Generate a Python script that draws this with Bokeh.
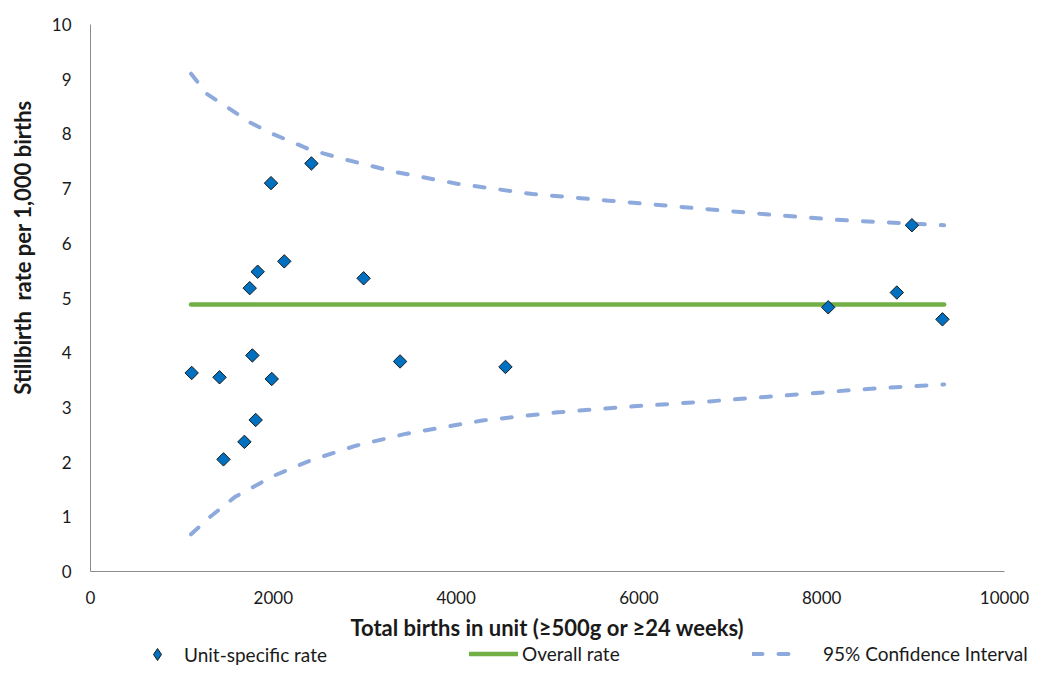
import math
from bokeh.plotting import figure
from bokeh.models import Range1d, Legend, LegendItem, Label, FixedTicker
from bokeh.embed import file_html
from bokeh.resources import INLINE

# ---- data ----
unit_births = [1107, 1412, 1455, 1684, 1742, 1771, 1807, 1829, 1975, 1983,
               2120, 2417, 2988, 3387, 4540, 8071, 8822, 8987, 9321]
unit_rate = [3.63, 3.55, 2.05, 2.37, 5.18, 3.95, 2.77, 5.48, 7.10, 3.52,
             5.67, 7.46, 5.36, 3.84, 3.74, 4.83, 5.10, 6.33, 4.61]

overall_x = [1100, 9340]
overall_rate = [4.88, 4.88]

ci_upper_x = [1100, 1274, 1495, 1744, 1992, 2406, 2793, 3346, 4009, 4838,
              5667, 6496, 7324, 8154, 9340]
ci_upper = [9.10, 8.73, 8.49, 8.21, 8.00, 7.71, 7.53, 7.30, 7.09, 6.90,
            6.78, 6.66, 6.54, 6.43, 6.33]
ci_lower_x = [1100, 1302, 1578, 1992, 2406, 2904, 3457, 4286, 5114, 5943,
              6773, 7601, 8430, 9340]
ci_lower = [0.68, 0.99, 1.36, 1.74, 2.03, 2.30, 2.52, 2.76, 2.91, 3.02,
            3.11, 3.22, 3.33, 3.42]

x_ticks = [0, 2000, 4000, 6000, 8000, 10000]
y_ticks = [0, 1, 2, 3, 4, 5, 6, 7, 8, 9, 10]
X_MIN, X_MAX = 0, 10000
Y_MIN, Y_MAX = 0, 10

# ---- layout (pixels on the canvas) ----
W, H = 1030, 666
AX_LEFT, AX_RIGHT, AX_TOP, AX_BOTTOM = 90, 1004, 24, 571
FONT = "Lato"
TEXT = "#1a1a1a"
AXIS_GRAY = "#8c8c8c"
CI_COLOR = "#8eaadc"
GREEN = "#72af45"
BLUE = "#0070c0"

xs = (AX_RIGHT - AX_LEFT) / (X_MAX - X_MIN)
ys = (AX_BOTTOM - AX_TOP) / (Y_MAX - Y_MIN)
x_range = Range1d(X_MIN - AX_LEFT / xs, X_MAX + (W - AX_RIGHT) / xs)
y_range = Range1d(Y_MIN - (H - AX_BOTTOM) / ys, Y_MAX + AX_TOP / ys)

p = figure(width=W, height=H, output_backend="svg", toolbar_location=None,
           x_range=x_range, y_range=y_range,
           min_border_left=0, min_border_right=0, min_border_top=0,
           min_border_bottom=0)
p.outline_line_color = None
p.xgrid.visible = False
p.ygrid.visible = False

r_ci = p.line(ci_upper_x, ci_upper, line_color=CI_COLOR, line_width=4,
              line_dash="10 16", line_cap="round")
p.line(ci_lower_x, ci_lower, line_color=CI_COLOR, line_width=4,
       line_dash="10 16", line_cap="round")
r_ov = p.line(overall_x, overall_rate, line_color=GREEN, line_width=4.5,
              line_cap="round")
# diamond used for the legend symbol; it sits hidden beneath the main markers
r_leg = p.scatter(unit_births, unit_rate, marker="diamond", size=8,
                  fill_color=BLUE, line_color="#1a1a1a", line_width=1)
p.scatter(unit_births, unit_rate, marker="square", size=9.5,
          angle=math.pi / 4, fill_color=BLUE,
          line_color="#1a1a1a", line_width=1)

xa = p.xaxis[0]
ya = p.yaxis[0]
xa.fixed_location = Y_MIN
ya.fixed_location = X_MIN
xa.bounds = (X_MIN, X_MAX)
ya.bounds = (Y_MIN, Y_MAX)
for ax in (xa, ya):
    ax.axis_line_color = AXIS_GRAY
    ax.axis_line_width = 1
    ax.major_tick_line_color = None
    ax.minor_tick_line_color = None
    ax.major_tick_out = 0
    ax.major_tick_in = 0
    ax.major_label_text_font = FONT
    ax.major_label_text_font_size = "17px"
    ax.major_label_text_color = TEXT

xa.ticker = FixedTicker(ticks=x_ticks)
ya.ticker = FixedTicker(ticks=y_ticks)
xa.major_label_standoff = 19
ya.major_label_standoff = 19

xa.axis_label = "Total births in unit (\u2265500g or \u226524 weeks)"
xa.axis_label_text_font = FONT
xa.axis_label_text_font_style = "bold"
xa.axis_label_text_font_size = "22px"
xa.axis_label_text_color = TEXT
xa.axis_label_standoff = 7

ylab = Label(x=22, y=H - 247, x_units="screen", y_units="screen",
             text="Stillbirth\u00a0 rate per 1,000 births", angle=math.pi / 2,
             text_align="center", text_baseline="middle",
             text_font=FONT, text_font_style="bold", text_font_size="22px",
             text_color=TEXT)
p.add_layout(ylab)


def make_legend(item_label, renderer, left_px, bottom_px, glyph_w, glyph_h,
                standoff):
    lg = Legend(items=[LegendItem(label=item_label, renderers=[renderer])],
                location=(left_px, bottom_px), orientation="horizontal",
                padding=0, margin=0, spacing=0,
                glyph_width=glyph_w, glyph_height=glyph_h,
                label_standoff=standoff,
                label_text_font=FONT, label_text_font_size="19px",
                label_text_color=TEXT,
                border_line_color=None, background_fill_alpha=0)
    p.add_layout(lg, "center")


make_legend("Unit-specific rate", r_leg, 142, -3, 30, 30, 12)
make_legend("Overall rate", r_ov, 469, 0, 49, 25, 4)
make_legend("95% Confidence Interval", r_ci, 752, 0, 47, 25, 24)

open("out.html", "w").write(file_html(p, INLINE))
